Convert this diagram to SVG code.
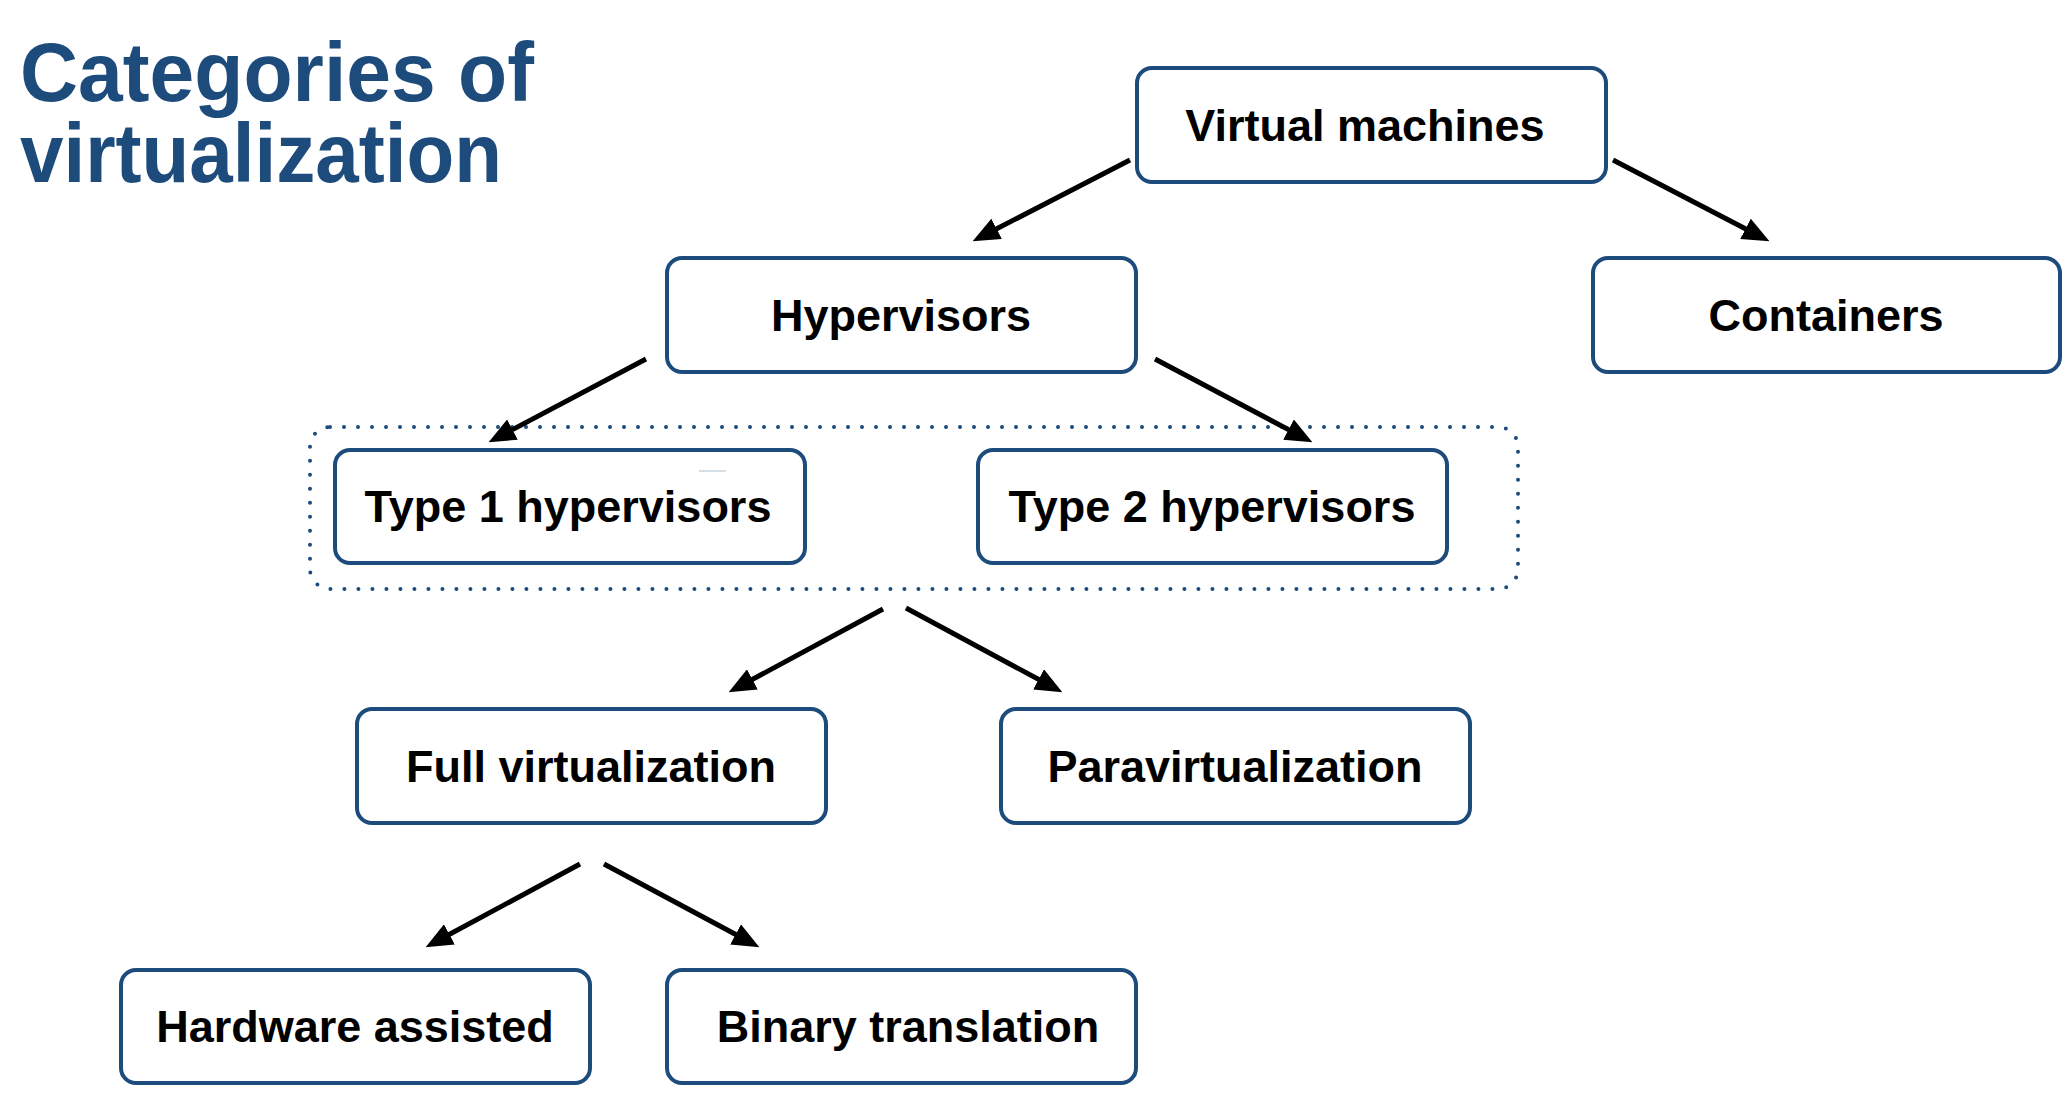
<svg xmlns="http://www.w3.org/2000/svg" width="2068" height="1105" viewBox="0 0 2068 1105">
  <style>
    .box { fill: #ffffff; stroke: #1d4b7c; stroke-width: 4; }
    .label { font-family: "Liberation Sans", Arial, Helvetica, sans-serif; font-weight: bold; font-size: 45px; fill: #000000; text-anchor: middle; }
    .title { font-family: "Liberation Sans", Arial, Helvetica, sans-serif; font-weight: bold; font-size: 83px; fill: #1d4b7c; }
    .conn { stroke: #000000; stroke-width: 5; fill: none; marker-end: url(#arrow); }
    .group { fill: none; stroke: #1d4b7c; stroke-width: 4; stroke-linecap: round; stroke-dasharray: 0 14; }
  </style>
  <defs>
    <marker id="arrow" markerUnits="userSpaceOnUse" markerWidth="27" markerHeight="23" viewBox="0 0 26 22" refX="14" refY="11" orient="auto">
      <path d="M0,0 L26,11 L0,22 z" fill="#000000"/>
    </marker>
  </defs>

  <rect width="2068" height="1105" fill="#ffffff"/>

  <g id="title">
    <text class="title" x="20" y="101" textLength="514" lengthAdjust="spacingAndGlyphs">Categories of</text>
    <text class="title" x="20" y="182" textLength="482" lengthAdjust="spacingAndGlyphs">virtualization</text>
  </g>

  <g id="group-hypervisor-types">
    <rect class="group" x="310" y="427" width="1208" height="162" rx="20" ry="20"/>
  </g>

  <g id="connectors">
    <line class="conn" x1="1130" y1="160" x2="983.7" y2="235.5"/>
    <line class="conn" x1="1613" y1="160" x2="1758.4" y2="235.5"/>
    <line class="conn" x1="646" y1="359" x2="499.6" y2="436.4"/>
    <line class="conn" x1="1155" y1="359" x2="1301.4" y2="436.4"/>
    <line class="conn" x1="883" y1="609" x2="739.6" y2="686.3"/>
    <line class="conn" x1="906" y1="608" x2="1051.4" y2="686.3"/>
    <line class="conn" x1="580" y1="864" x2="436.6" y2="941.3"/>
    <line class="conn" x1="604" y1="864" x2="748.4" y2="941.3"/>
  </g>

  <g id="node-virtual-machines">
    <rect class="box" x="1137" y="68" width="469" height="114" rx="15" ry="15"/>
    <text class="label" x="1365" y="141">Virtual machines</text>
  </g>
  <g id="node-hypervisors">
    <rect class="box" x="667" y="258" width="469" height="114" rx="15" ry="15"/>
    <text class="label" x="901" y="331">Hypervisors</text>
  </g>
  <g id="node-containers">
    <rect class="box" x="1593" y="258" width="467" height="114" rx="15" ry="15"/>
    <text class="label" x="1826" y="331">Containers</text>
  </g>
  <g id="node-type1">
    <rect class="box" x="335" y="450" width="470" height="113" rx="15" ry="15"/>
    <line x1="699" y1="471" x2="726" y2="471" stroke="#a9bdd0" stroke-width="1"/>
    <text class="label" x="568" y="522">Type 1 hypervisors</text>
  </g>
  <g id="node-type2">
    <rect class="box" x="978" y="450" width="469" height="113" rx="15" ry="15"/>
    <text class="label" x="1212" y="522">Type 2 hypervisors</text>
  </g>
  <g id="node-full-virtualization">
    <rect class="box" x="357" y="709" width="469" height="114" rx="15" ry="15"/>
    <text class="label" x="591" y="782">Full virtualization</text>
  </g>
  <g id="node-paravirtualization">
    <rect class="box" x="1001" y="709" width="469" height="114" rx="15" ry="15"/>
    <text class="label" x="1235" y="782">Paravirtualization</text>
  </g>
  <g id="node-hardware-assisted">
    <rect class="box" x="121" y="970" width="469" height="113" rx="15" ry="15"/>
    <text class="label" x="355" y="1042">Hardware assisted</text>
  </g>
  <g id="node-binary-translation">
    <rect class="box" x="667" y="970" width="469" height="113" rx="15" ry="15"/>
    <text class="label" x="908" y="1042">Binary translation</text>
  </g>
</svg>
